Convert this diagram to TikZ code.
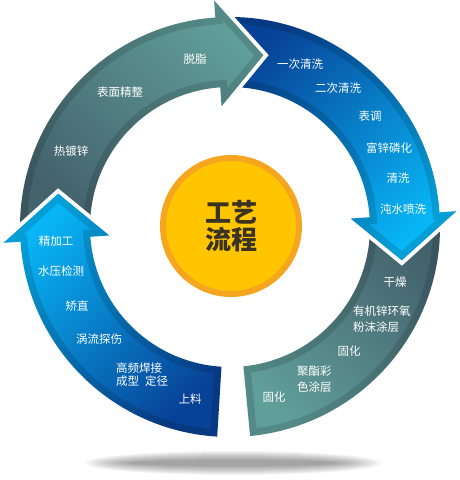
\documentclass[tikz,border=0pt]{standalone}
\usepackage{fontspec}
\newfontfamily\cjk{Noto Sans CJK SC}
\usetikzlibrary{positioning}
\definecolor{pizarra}{RGB}{68,98,108}
\definecolor{turq}{RGB}{96,158,154}
\definecolor{azulo}{RGB}{8,66,150}
\definecolor{cian}{RGB}{8,182,246}
\definecolor{oro}{RGB}{255,198,0}
\definecolor{naranja}{RGB}{246,166,30}
\definecolor{tinta}{RGB}{58,50,34}
\tikzset{
  etq/.style={text=white, font=\cjk\fontsize{11.5}{13}\selectfont, inner sep=0pt},
  etqb/.style={etq, align=left, anchor=west},
  halo/.style={draw=white, line width=8pt, line join=miter},
  borde/.style={draw=black, opacity=.13, line width=14pt},
}
% one arm of the ring: tail angle, head base angle, tip angle
\newcommand\brazo[3]{(#1:210) arc[start angle=#1,end angle=#2,radius=210] -- (#2:227) -- (#3:175) -- (#2:121) -- (#2:140) arc[start angle=#2,end angle=#1,radius=140] -- cycle}
\newcommand\flecha[4]{%
  \draw[halo] \brazo{#1}{#2}{#3};
  \begin{scope}
    \clip \brazo{#1}{#2}{#3};
    \shade[#4] \brazo{#1}{#2}{#3};
    \draw[borde] \brazo{#1}{#2}{#3};
  \end{scope}}

\begin{document}
\begin{tikzpicture}[x=1pt, y=1pt]
  \useasboundingbox (0,0) rectangle (460,480);
  % shadow
  \foreach \k in {0,...,9}
    \fill[black, opacity=.045] (233,17) ellipse ({148-5*\k} and {12-\k});
  \begin{scope}[shift={(230,253)}]
    % lower right arm, flat at both ends
    \draw[halo] (2:210) arc[start angle=2,end angle=-84.5,radius=210] -- (-84.5:140) arc[start angle=-84.5,end angle=2,radius=140] -- cycle;
    \begin{scope}
      \clip (2:210) arc[start angle=2,end angle=-84.5,radius=210] -- (-84.5:140) arc[start angle=-84.5,end angle=2,radius=140] -- cycle;
      \shade[top color=pizarra, bottom color=turq, shading angle=-45] (2:210) arc[start angle=2,end angle=-84.5,radius=210] -- (-84.5:140) arc[start angle=-84.5,end angle=2,radius=140] -- cycle;
      \draw[borde] (2:210) arc[start angle=2,end angle=-84.5,radius=210] -- (-84.5:140) arc[start angle=-84.5,end angle=2,radius=140] -- cycle;
    \end{scope}
    \flecha{92}{4}{-11}{top color=azulo, bottom color=cian, shading angle=45}
    \flecha{181}{94}{79}{top color=turq, bottom color=pizarra, shading angle=-45}
    % lower left arm, flat tail at the bottom
    \draw[halo] (266.5:210) arc[start angle=266.5,end angle=184,radius=210] -- (184:227) -- (169:175) -- (184:121) -- (184:140) arc[start angle=184,end angle=266.5,radius=140] -- cycle;
    \begin{scope}
      \clip (266.5:210) arc[start angle=266.5,end angle=184,radius=210] -- (184:227) -- (169:175) -- (184:121) -- (184:140) arc[start angle=184,end angle=266.5,radius=140] -- cycle;
      \shade[top color=cian, bottom color=azulo, shading angle=45] (266.5:210) arc[start angle=266.5,end angle=184,radius=210] -- (184:227) -- (169:175) -- (184:121) -- (184:140) arc[start angle=184,end angle=266.5,radius=140] -- cycle;
      \draw[borde] (266.5:210) arc[start angle=266.5,end angle=184,radius=210] -- (184:227) -- (169:175) -- (184:121) -- (184:140) arc[start angle=184,end angle=266.5,radius=140] -- cycle;
    \end{scope}
  \end{scope}
  \node[circle, fill=oro, draw=naranja, line width=6pt, minimum size=136pt, align=center, text=tinta,
    font=\cjk\bfseries\fontsize{26}{27}\selectfont] (centro) at (231,254) {工艺\\流程};
  % top left arm
  \node[etq] (e1) at (195,421) {脱脂};
  \node[etq] (e2) at (120,388) {表面精整};
  \node[etq] (e3) at (71,329)  {热镀锌};
  % top right arm
  \node[etq] (e4) at (300,416) {一次清洗};
  \node[etq] (e5) at (338,392) {二次清洗};
  \node[etq] (e6) at (370,364) {表调};
  \node[etq] (e7) at (389,332) {富锌磷化};
  \node[etq] (e8) at (398,302) {清洗};
  \node[etq] (e9) at (403,271) {沌水喷洗};
  % lower right arm
  \node[etq] (e10) at (395,198) {干燥};
  \node[etqb, font=\cjk\fontsize{11.5}{16}\selectfont] (e11) at (353,161) {有机锌环氧\\粉沫涂层};
  \node[etq] (e12) at (349,129) {固化};
  \node[etqb, font=\cjk\fontsize{11.5}{16}\selectfont] (e13) at (297,101) {聚酯彩\\色涂层};
  \node[etq] (e14) at (274,83)  {固化};
  % lower left arm
  \node[etq] (e15) at (56,239)  {精加工};
  \node[etq] (e16) at (61,209)  {水压检测};
  \node[etq] (e17) at (77,174)  {矫直};
  \node[etq] (e18) at (99,141)  {涡流探伤};
  \node[etqb] (e19) at (116,105.5) {高频焊接\\成型\hspace{6pt}定径};
  \node[etq] (e20) at (190,81)  {上料};
\end{tikzpicture}
\end{document}
